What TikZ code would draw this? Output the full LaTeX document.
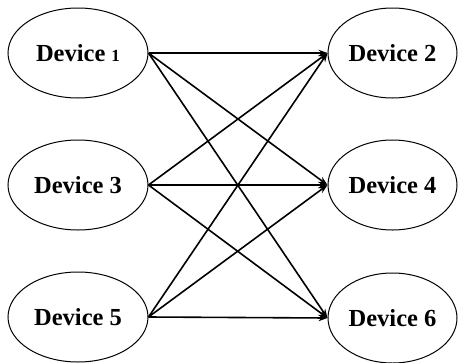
\documentclass[tikz,border=0pt]{standalone}
\usepackage{fontspec}
\setmainfont{Liberation Serif}
\usetikzlibrary{arrows.meta,shapes.geometric}
\begin{document}
\begin{tikzpicture}[x=1pt,y=-1pt,
  dev/.style={draw,ellipse,line width=1pt,inner sep=0pt,minimum height=90pt,
    font=\fontsize{24.5}{28}\selectfont\bfseries},
  devl/.style={dev,minimum width=140pt},
  devr/.style={dev,minimum width=129pt},
  link/.style={line width=1.6pt,-{Stealth[length=9pt,width=6.5pt]}}]
\useasboundingbox (0,0) rectangle (458,362);
\node[devl] (d1) at (78,53) {Device {\fontsize{17}{20}\selectfont 1}};
\node[devl] (d3) at (78,185) {Device 3};
\node[devl] (d5) at (78,317) {Device 5};
\node[devr] (d2) at (392.5,53) {Device 2};
\node[devr] (d4) at (392.5,185) {Device 4};
\node[devr] (d6) at (392.5,318) {Device 6};
\foreach \a in {d1,d3,d5}{
  \foreach \b in {d2,d4,d6}{
    \draw[link] (\a.east) -- (\b.west);
  }
}
\end{tikzpicture}
\end{document}
